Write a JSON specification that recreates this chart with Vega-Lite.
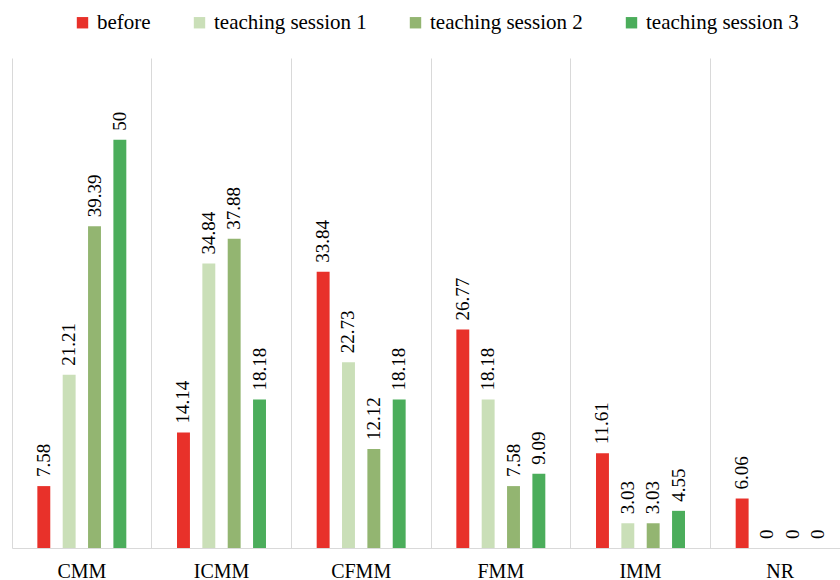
{
  "$schema": "https://vega.github.io/schema/vega-lite/v6.json",
  "autosize": "none",
  "width": 828,
  "height": 490,
  "padding": {"left": 12, "top": 58, "right": 0, "bottom": 32},
  "background": "white",
  "config": {
    "view": {"stroke": null},
    "font": "Liberation Serif"
  },
  "data": {
    "values": [
      {"category": "CMM", "series": "before", "value": 7.58},
      {"category": "CMM", "series": "teaching session 1", "value": 21.21},
      {"category": "CMM", "series": "teaching session 2", "value": 39.39},
      {"category": "CMM", "series": "teaching session 3", "value": 50},
      {"category": "ICMM", "series": "before", "value": 14.14},
      {"category": "ICMM", "series": "teaching session 1", "value": 34.84},
      {"category": "ICMM", "series": "teaching session 2", "value": 37.88},
      {"category": "ICMM", "series": "teaching session 3", "value": 18.18},
      {"category": "CFMM", "series": "before", "value": 33.84},
      {"category": "CFMM", "series": "teaching session 1", "value": 22.73},
      {"category": "CFMM", "series": "teaching session 2", "value": 12.12},
      {"category": "CFMM", "series": "teaching session 3", "value": 18.18},
      {"category": "FMM", "series": "before", "value": 26.77},
      {"category": "FMM", "series": "teaching session 1", "value": 18.18},
      {"category": "FMM", "series": "teaching session 2", "value": 7.58},
      {"category": "FMM", "series": "teaching session 3", "value": 9.09},
      {"category": "IMM", "series": "before", "value": 11.61},
      {"category": "IMM", "series": "teaching session 1", "value": 3.03},
      {"category": "IMM", "series": "teaching session 2", "value": 3.03},
      {"category": "IMM", "series": "teaching session 3", "value": 4.55},
      {"category": "NR", "series": "before", "value": 6.06},
      {"category": "NR", "series": "teaching session 1", "value": 0},
      {"category": "NR", "series": "teaching session 2", "value": 0},
      {"category": "NR", "series": "teaching session 3", "value": 0}
    ]
  },
  "encoding": {
    "x": {
      "field": "category",
      "type": "nominal",
      "sort": ["CMM", "ICMM", "CFMM", "FMM", "IMM", "NR"],
      "scale": {"range": [0, 838], "paddingInner": 0, "paddingOuter": 0},
      "axis": {
        "title": null,
        "labelAngle": 0,
        "labelFont": "Liberation Serif",
        "labelFontSize": 20,
        "labelColor": "#000000",
        "labelPadding": 13,
        "ticks": false,
        "domainColor": "#d9d9d9",
        "domainWidth": 1,
        "grid": true,
        "gridColor": "#d9d9d9",
        "gridWidth": 1,
        "bandPosition": 0
      }
    },
    "xOffset": {
      "field": "series",
      "type": "nominal",
      "sort": ["before", "teaching session 1", "teaching session 2", "teaching session 3"],
      "scale": {"paddingInner": 0.49, "paddingOuter": 1.2}
    },
    "y": {
      "field": "value",
      "type": "quantitative",
      "scale": {"domain": [0, 60], "nice": false},
      "axis": null
    }
  },
  "layer": [
    {
      "mark": {"type": "bar"},
      "encoding": {
        "color": {
          "field": "series",
          "type": "nominal",
          "sort": ["before", "teaching session 1", "teaching session 2", "teaching session 3"],
          "scale": {
            "domain": ["before", "teaching session 1", "teaching session 2", "teaching session 3"],
            "range": ["#E8312A", "#CADFB8", "#93B571", "#4BAD5B"]
          },
          "legend": {
            "title": null,
            "orient": "none",
            "legendX": 60,
            "legendY": -46,
            "direction": "horizontal",
            "symbolType": "square",
            "symbolSize": 130,
            "symbolStrokeWidth": 0,
            "labelFont": "Liberation Serif",
            "labelFontSize": 21,
            "labelLimit": 400,
            "labelColor": "#000000",
            "labelOffset": 4,
            "columnPadding": 38,
            "padding": 0
          }
        }
      }
    },
    {
      "mark": {
        "type": "text",
        "angle": 270,
        "align": "left",
        "baseline": "middle",
        "dx": 9,
        "font": "Liberation Serif",
        "fontSize": 19,
        "color": "#000000"
      },
      "encoding": {
        "text": {"field": "value", "type": "quantitative"}
      }
    }
  ]
}
